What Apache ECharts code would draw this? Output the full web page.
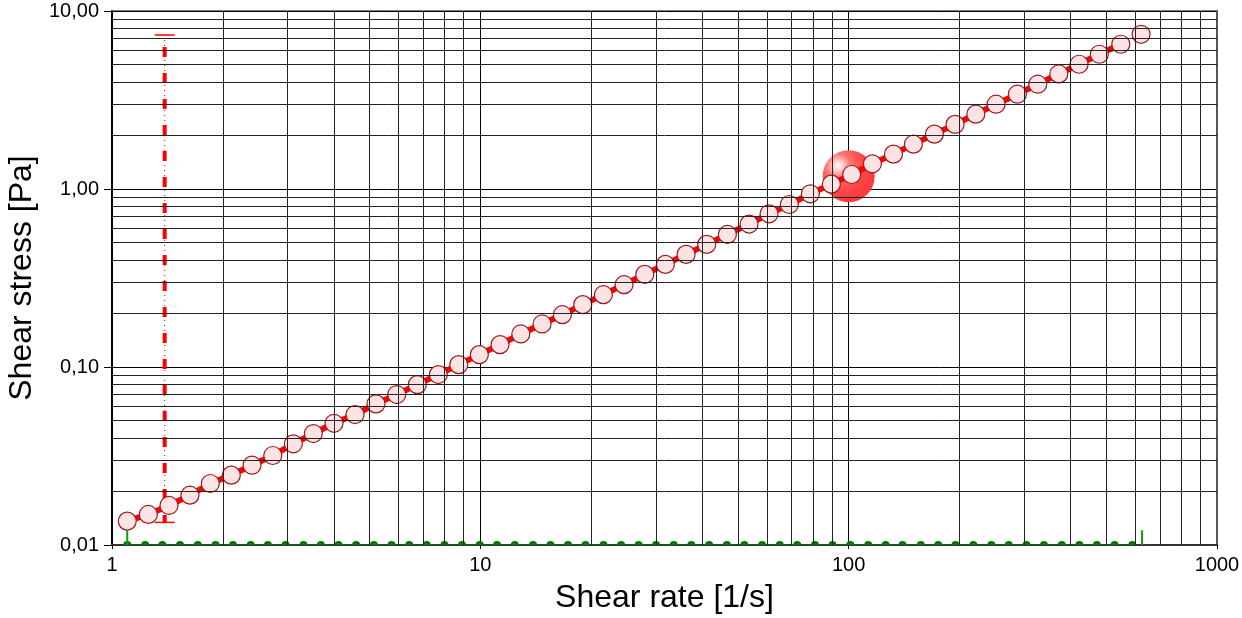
<!DOCTYPE html>
<html><head><meta charset="utf-8">
<script src="https://cdn.jsdelivr.net/npm/echarts@6/dist/echarts.min.js"></script>
<style>html,body{margin:0;padding:0;background:#fff}#c{width:1242px;height:618px}</style>
</head><body><div id="c"></div>
<script>
// Flow curve: shear rate [1/s] vs shear stress [Pa]
const shearRate = [1.100, 1.255, 1.428, 1.628, 1.849, 2.108, 2.400, 2.732, 3.107, 3.521,
  4.007, 4.569, 5.209, 5.930, 6.745, 7.691, 8.738, 9.938, 11.31, 12.88,
  14.71, 16.70, 18.97, 21.58, 24.56, 27.95, 31.79, 36.19, 41.18, 46.85,
  53.65, 60.80, 69.02, 78.71, 89.74, 101.9, 116.0, 132.3, 149.9, 170.9,
  194.5, 221.4, 251.3, 287.1, 326.1, 371.9, 422.3, 479.3, 548.1, 622.2];
const shearStress = [0.01362, 0.01485, 0.01668, 0.01905, 0.02216, 0.02468, 0.02808, 0.03183, 0.03702, 0.04229,
  0.04827, 0.05405, 0.06207, 0.07002, 0.07964, 0.09066, 0.1031, 0.1174, 0.1336, 0.1533,
  0.1745, 0.1968, 0.2240, 0.2549, 0.2901, 0.3314, 0.3771, 0.4291, 0.4884, 0.5557,
  0.6353, 0.7257, 0.8185, 0.9399, 1.065, 1.206, 1.385, 1.570, 1.786, 2.033,
  2.307, 2.633, 2.995, 3.408, 3.879, 4.431, 5.022, 5.715, 6.504, 7.397];
// second (green) series lying on the bottom of the stress axis
const baseRate = [1.10, 1.23, 1.37, 1.53, 1.71, 1.91, 2.13, 2.38, 2.65, 2.96,
  3.31, 3.69, 4.12, 4.60, 5.14, 5.74, 6.41, 7.15, 7.99, 8.92,
  9.96, 11.1, 12.4, 13.9, 15.5, 17.3, 19.3, 21.6, 24.1, 26.9,
  30.0, 33.5, 37.4, 41.8, 46.7, 52.1, 58.2, 65.0, 72.5, 81.0,
  90.4, 101, 113, 126, 140, 157, 175, 195, 218, 244,
  272, 304, 339, 379, 423, 472, 527, 589];
const baseStress = 0.01;
// green start/end markers
const markerRate = [1.1, 626];
const markerStress = [0.01, 0.0121];
// red range indicator (min..max stress)
const rangeRate = 1.39;
const rangeStress = [7.33, 0.0134];
// highlighted point
const highlightPoint = [100, 1.18];
// axes
const xMin = 1, xMax = 1000;
const yMin = 0.01, yMax = 10;
const minorX = [2,3,4,5,6,7,8,9,20,30,40,50,60,70,80,90,200,300,400,500,600,700,800,900];
const minorY = [0.02,0.03,0.04,0.05,0.06,0.07,0.08,0.09,0.2,0.3,0.4,0.5,0.6,0.7,0.8,0.9,2,3,4,5,6,7,8,9];

const FONT = "'Liberation Sans', Arial, sans-serif";
const pts = shearRate.map((x, i) => [x, shearStress[i]]);
const chart = echarts.init(document.getElementById('c'), null, {renderer: 'canvas'});

const spikeSeries = markerRate.map(x => ({
  type: 'line', z: 5, silent: true,
  data: [[x, markerStress[0]], [x, markerStress[1]]],
  showSymbol: false, symbol: 'none',
  lineStyle: {color: '#119911', width: 2}
}));

chart.setOption({
  animation: false,
  backgroundColor: '#ffffff',
  grid: {left: 112, right: 25, top: 11, bottom: 73, show: true, borderColor: '#000', borderWidth: 1, outerBoundsMode: 'none'},
  xAxis: [{
    type: 'log', logBase: 10, min: xMin, max: xMax,
    name: 'Shear rate [1/s]', nameLocation: 'middle', nameGap: 37,
    nameTextStyle: {fontFamily: FONT, fontSize: 32, color: '#000'},
    axisLine: {show: true, onZero: false, lineStyle: {color: '#333', width: 2}},
    axisTick: {show: true, length: 4, lineStyle: {color: '#000'}},
    axisLabel: {fontFamily: FONT, fontSize: 20, color: '#000', margin: 10,
      formatter: v => String(Math.round(v))},
    splitLine: {show: true, lineStyle: {color: '#000', width: 1}}
  }],
  yAxis: [{
    type: 'log', logBase: 10, min: yMin, max: yMax,
    name: 'Shear stress [Pa]', nameLocation: 'middle', nameGap: 67,
    nameTextStyle: {fontFamily: FONT, fontSize: 32, color: '#000'},
    axisLine: {show: true, onZero: false, lineStyle: {color: '#000', width: 2}},
    axisTick: {show: true, length: 8, lineStyle: {color: '#000'}},
    axisLabel: {fontFamily: FONT, fontSize: 20, color: '#000', margin: 13,
      formatter: v => v.toFixed(2).replace('.', ',')},
    splitLine: {show: true, lineStyle: {color: '#000', width: 1}}
  }, {
    type: 'log', logBase: 10, min: yMin, max: yMax, position: 'right',
    axisLine: {show: true, lineStyle: {color: '#555', width: 2}},
    axisTick: {show: false}, axisLabel: {show: false}, splitLine: {show: false}
  }],
  series: [
    {
      type: 'line', data: [], z: 1, silent: true,
      markLine: {
        silent: true, symbol: 'none', label: {show: false}, animation: false,
        lineStyle: {color: '#222', width: 1, type: 'solid'},
        emphasis: {disabled: true},
        data: minorX.map(v => ({xAxis: v})).concat(minorY.map(v => ({yAxis: v})))
      }
    },
    {
      type: 'scatter', z: 2, silent: true,
      data: [highlightPoint], symbolSize: 52,
      itemStyle: {
        opacity: 1,
        color: {type: 'radial', x: 0.3, y: 0.3, r: 0.85, colorStops: [
          {offset: 0, color: '#ffffff'}, {offset: 0.1, color: '#ffd4d4'},
          {offset: 0.28, color: '#ff7272'}, {offset: 0.55, color: '#ff4848'}, {offset: 1, color: '#ff3434'}]}
      }
    },
    {
      type: 'line', z: 3, silent: true,
      data: [[rangeRate, rangeStress[0]], [rangeRate, rangeStress[1]]],
      showSymbol: false, symbol: 'none',
      lineStyle: {color: '#ff0000', width: 4, type: [10, 16], dashOffset: 14}
    },
    {
      type: 'line', z: 3, silent: true,
      data: [[rangeRate, rangeStress[0]], [rangeRate, rangeStress[1]]],
      symbol: 'rect', symbolSize: [20, 1.5], showSymbol: true,
      itemStyle: {color: '#ff0000'},
      lineStyle: {color: '#ff0000', width: 1, type: [1, 4]}
    },
    {
      type: 'line', z: 3, silent: true,
      data: baseRate.map(x => [x, baseStress]),
      symbol: 'path://M0,10 A10,10 0 0 1 20,10 Z', symbolSize: [8, 4], symbolOffset: [0, -2],
      showSymbol: true,
      itemStyle: {color: '#007a00', opacity: 1},
      lineStyle: {color: '#007a00', width: 1}
    },
    ...spikeSeries,
    {
      type: 'line', z: 4, silent: true,
      data: pts.slice(0, pts.length - 1),
      symbol: 'circle', symbolSize: 18, showSymbol: true,
      lineStyle: {color: '#ff0000', width: 6},
      itemStyle: {color: '#fde3e3', borderColor: '#9a1c1c', borderWidth: 1.2, opacity: 1}
    },
    {
      type: 'scatter', z: 4, silent: true,
      data: pts.slice(pts.length - 1),
      symbol: 'circle', symbolSize: 18,
      itemStyle: {color: '#fde3e3', borderColor: '#9a1c1c', borderWidth: 1.2, opacity: 1}
    }
  ]
});
</script>
</body></html>
